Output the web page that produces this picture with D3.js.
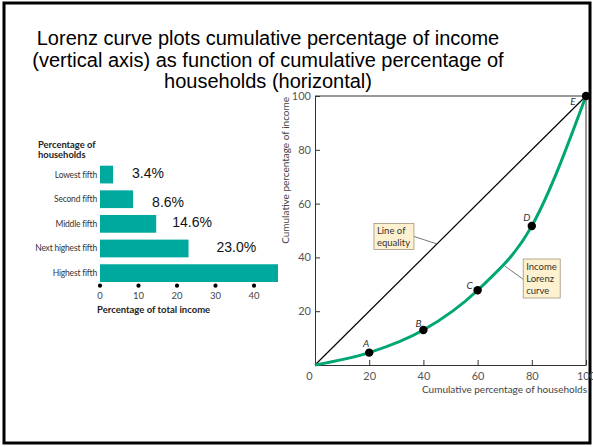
<!DOCTYPE html>
<html>
<head>
<meta charset="utf-8">
<script src="https://cdn.jsdelivr.net/npm/d3@7"></script>
<style>
  html, body { margin: 0; padding: 0; background: #fff; }
  svg { display: block; }
  .title { font-family: "Liberation Sans", Arial, sans-serif; font-size: 20px; fill: #000; }
  .lbl { font-family: Lato, "Open Sans", sans-serif; fill: #333; }
</style>
</head>
<body>
<svg id="chart" width="593" height="447"></svg>
<script>
// Share of total income received by each fifth of households
const categories = ["Lowest fifth", "Second fifth", "Middle fifth", "Next highest fifth", "Highest fifth"];
const incomeShares = [3.4, 8.6, 14.6, 23.0, 50.4];
const shareLabels = ["3.4%", "8.6%", "14.6%", "23.0%", ""];
const incomeTicks = [0, 10, 20, 30, 40];

// Lorenz curve: cumulative % of households vs cumulative % of income
const householdPct = [0, 20, 40, 60, 80, 100];
const cumulativeIncome = [0, 4.6, 13.0, 27.8, 51.7, 100];
const pointNames = ["", "A", "B", "C", "D", "E"];
const lorenzTicks = [0, 20, 40, 60, 80, 100];

const titleLines = [
  "Lorenz curve plots cumulative percentage of income",
  "(vertical axis) as function of cumulative percentage of",
  "households (horizontal)"
];

// label nudges (px) for the share labels and the point letters
const shareNudge = [[19, -1.5], [19, 2.4], [16, -1.8], [28, -1.6], [0, 0]];
const letterNudge = [[0, 0], [-3, -9], [-5, -7], [-8, -5], [-5, -8], [-13, 5]];

const svg = d3.select("#chart");

// slide frame
svg.append("rect")
  .attr("x", 4).attr("y", 3).attr("width", 586).attr("height", 440)
  .attr("fill", "none").attr("stroke", "#000").attr("stroke-width", 3);

// title
svg.append("g").selectAll("text").data(titleLines).join("text")
  .attr("class", "title")
  .attr("x", 268)
  .attr("y", (d, i) => 45 + i * 21.5)
  .attr("text-anchor", "middle")
  .text(d => d);

// ---------- bar chart ----------
const bx = d3.scaleLinear().domain([0, 10]).range([100, 138.5]);
const by = d3.scaleBand().domain(categories).range([162.25, 285.45])
  .paddingInner(0.28).paddingOuter(0.14);

svg.append("defs").append("clipPath").attr("id", "barclip")
  .append("rect").attr("x", 0).attr("y", 0).attr("width", 278).attr("height", 447);

const barG = svg.append("g");
barG.append("g").attr("clip-path", "url(#barclip)")
  .selectAll("rect").data(incomeShares).join("rect")
  .attr("x", bx(0))
  .attr("y", (d, i) => by(categories[i]))
  .attr("width", d => bx(d) - bx(0))
  .attr("height", by.bandwidth())
  .attr("fill", "#00a99d");

barG.selectAll("text.cat").data(categories).join("text")
  .attr("class", "lbl cat")
  .attr("x", 97)
  .attr("y", d => by(d) + by.bandwidth() / 2)
  .attr("dy", "0.35em")
  .attr("text-anchor", "end")
  .style("font-size", "8.5px")
  .style("letter-spacing", "-0.2px")
  .text(d => d);

barG.selectAll("text.share").data(incomeShares).join("text")
  .attr("class", "share")
  .attr("x", (d, i) => bx(d) + shareNudge[i][0])
  .attr("y", (d, i) => by(categories[i]) + by.bandwidth() / 2 + shareNudge[i][1])
  .attr("dy", "0.36em")
  .style("font-family", "'Liberation Sans', Arial, sans-serif")
  .style("font-size", "14px")
  .style("fill", "#111")
  .text((d, i) => shareLabels[i]);

barG.append("text").attr("class", "lbl")
  .attr("x", 38).attr("y", 148)
  .style("font-size", "9.4px").style("font-weight", "bold").style("fill", "#222")
  .text("Percentage of");
barG.append("text").attr("class", "lbl")
  .attr("x", 38).attr("y", 157.5)
  .style("font-size", "9.4px").style("font-weight", "bold").style("fill", "#222")
  .text("households");

// bar axis: dotted ticks
const bAxis = barG.append("g");
bAxis.selectAll("circle").data(incomeTicks).join("circle")
  .attr("cx", d => bx(d)).attr("cy", 285.7).attr("r", 2.1).attr("fill", "#000");
bAxis.selectAll("text").data(incomeTicks).join("text")
  .attr("class", "lbl")
  .attr("x", d => bx(d)).attr("y", 299)
  .attr("text-anchor", "middle")
  .style("font-size", "9.5px").style("fill", "#444")
  .text(d => d);
barG.append("text").attr("class", "lbl")
  .attr("x", 97).attr("y", 312.7)
  .style("font-size", "9.5px").style("font-weight", "bold").style("fill", "#222")
  .text("Percentage of total income");

// ---------- Lorenz chart ----------
const lx = d3.scaleLinear().domain([0, 100]).range([315, 586]);
const ly = d3.scaleLinear().domain([0, 100]).range([365, 96]);

const lg = svg.append("g");

// frame top and right
lg.append("path")
  .attr("d", `M${lx(0)},${ly(100)}H${lx(100)}V${ly(0)}`)
  .attr("fill", "none").attr("stroke", "#333").attr("stroke-width", 1);

const xAxis = lg.append("g").attr("transform", `translate(0,${ly(0)})`)
  .call(d3.axisBottom(lx).tickValues(lorenzTicks).tickSize(-5).tickSizeOuter(0).tickPadding(6));
const yAxis = lg.append("g").attr("transform", `translate(${lx(0)},0)`)
  .call(d3.axisLeft(ly).tickValues(lorenzTicks.slice(1)).tickSize(-5).tickSizeOuter(0).tickPadding(4));

[xAxis, yAxis].forEach(a => {
  a.select(".domain").attr("stroke", "#333").attr("stroke-width", 1);
  a.selectAll(".tick line").attr("stroke", "#333");
  a.selectAll(".tick text")
    .attr("font-family", "Lato, 'Open Sans', sans-serif")
    .attr("font-size", "11px").attr("fill", "#555");
});
xAxis.selectAll(".tick text").attr("y", 7).attr("dy", "0.71em");
xAxis.selectAll(".tick").filter(d => d === 0).select("text").attr("x", -6);
yAxis.selectAll(".tick text").attr("x", -4);

lg.append("text").attr("class", "lbl")
  .attr("x", 587).attr("y", 393)
  .attr("text-anchor", "end")
  .style("font-size", "10px").style("fill", "#444")
  .text("Cumulative percentage of households");

lg.append("text").attr("class", "lbl")
  .attr("transform", `translate(289,97) rotate(-90)`)
  .attr("text-anchor", "end")
  .style("font-size", "10px").style("fill", "#444")
  .text("Cumulative percentage of income");

// line of equality
lg.append("line")
  .attr("x1", lx(0)).attr("y1", ly(0)).attr("x2", lx(100)).attr("y2", ly(100))
  .attr("stroke", "#000").attr("stroke-width", 1.2);

// Lorenz curve
const pts = householdPct.map((h, i) => [h, cumulativeIncome[i]]);
lg.append("path")
  .datum(pts)
  .attr("d", d3.line().x(d => lx(d[0])).y(d => ly(d[1])).curve(d3.curveMonotoneX))
  .attr("fill", "none").attr("stroke", "#00a673").attr("stroke-width", 3);

// labelled points
lg.selectAll("circle").data(pts.slice(1)).join("circle")
  .attr("cx", d => lx(d[0])).attr("cy", d => ly(d[1])).attr("r", 4.2).attr("fill", "#000");
lg.selectAll("text.pt").data(pts).join("text")
  .attr("class", "lbl pt")
  .attr("x", (d, i) => lx(d[0]) + letterNudge[i][0])
  .attr("y", (d, i) => ly(d[1]) + letterNudge[i][1])
  .attr("dy", "0.35em")
  .attr("text-anchor", "middle")
  .style("font-size", "10px").style("font-style", "italic").style("fill", "#333")
  .text((d, i) => pointNames[i]);

// callout boxes
function callout(target, box, lines, leaderFrom) {
  lg.append("line")
    .attr("x1", leaderFrom[0]).attr("y1", leaderFrom[1])
    .attr("x2", target[0]).attr("y2", target[1])
    .attr("stroke", "#555").attr("stroke-width", 0.8);
  lg.append("rect")
    .attr("x", box[0]).attr("y", box[1]).attr("width", box[2]).attr("height", box[3])
    .attr("fill", "#fdf1cf").attr("stroke", "#a2967c").attr("stroke-width", 0.8);
  lg.append("g").selectAll("text").data(lines).join("text")
    .attr("class", "lbl")
    .attr("x", box[0] + 3)
    .attr("y", (d, i) => box[1] + 11 + i * 12)
    .style("font-size", "9.5px").style("fill", "#333")
    .text(d => d);
}
const eqT = [lx(45), ly(45)];
callout(eqT, [eqT[0] - 63, eqT[1] - 20.5, 40, 26], ["Line of", "equality"], [eqT[0] - 23, eqT[1] - 7.5]);
const lzT = [lx(70), ly(36.8)];
callout(lzT, [lzT[0] + 18.5, lzT[1] - 7, 37, 39], ["Income", "Lorenz", "curve"], [lzT[0] + 19.5, lzT[1] + 14]);
</script>
</body>
</html>
